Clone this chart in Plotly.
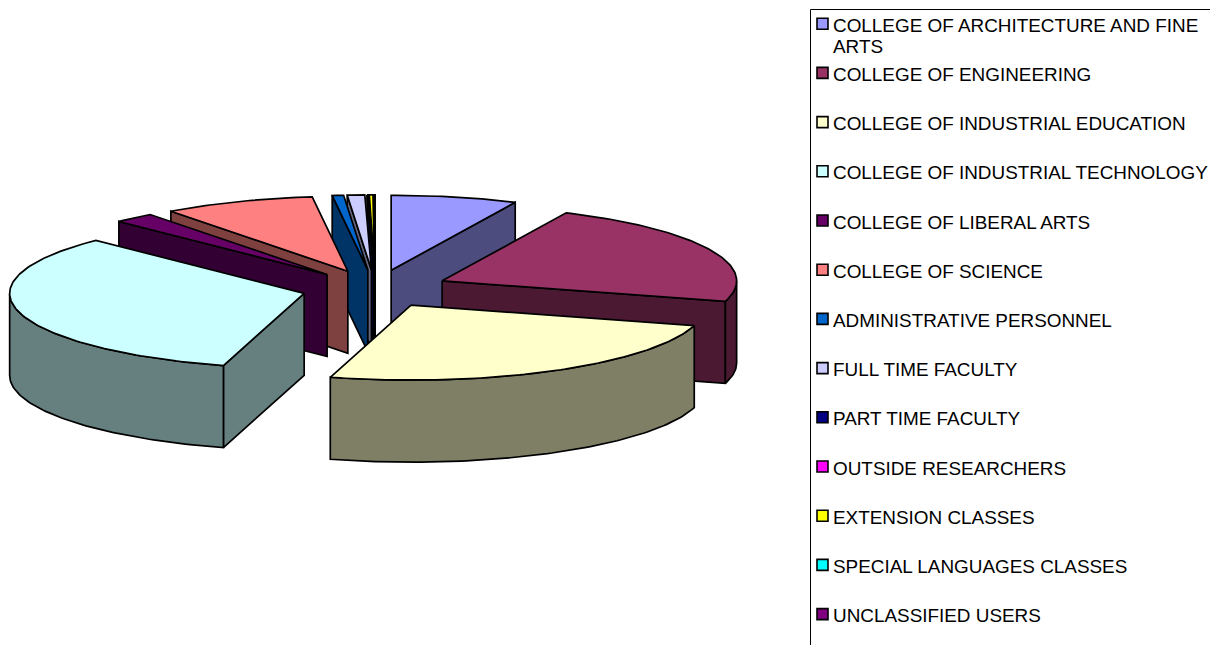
import numpy as np
import plotly.graph_objects as go

categories = ["COLLEGE OF ARCHITECTURE AND FINE ARTS", "COLLEGE OF ENGINEERING",
              "COLLEGE OF INDUSTRIAL EDUCATION", "COLLEGE OF INDUSTRIAL TECHNOLOGY",
              "COLLEGE OF LIBERAL ARTS", "COLLEGE OF SCIENCE", "ADMINISTRATIVE PERSONNEL",
              "FULL TIME FACULTY", "PART TIME FACULTY", "OUTSIDE RESEARCHERS",
              "EXTENSION CLASSES", "SPECIAL LANGUAGES CLASSES", "UNCLASSIFIED USERS"]
# estimated shares (percent)
values = [6.92, 22.5, 25.0, 33.08, 2.24, 8.33, 0.62, 0.95, 0.03, 0.05, 0.2, 0.02, 0.06]
top_colors = ["#9999FF", "#993366", "#FFFFCC", "#CCFFFF", "#660066", "#FF8080", "#0066CC",
              "#CCCCFF", "#000080", "#FF00FF", "#FFFF00", "#00FFFF", "#800080"]
legend_rows = [["COLLEGE OF ARCHITECTURE AND FINE", "ARTS"]] + [[c] for c in categories[1:]]

# pie projection, in page pixels
CX, CY, RX, RY, DEPTH, EXPLODE = 375.3, 288.7, 294.5, 75.0, 82.0, 73.5
EDGE = dict(color="#000000", width=1.7)


def darker(hex_color):
    r, g, b = (int(hex_color[i:i + 2], 16) for i in (1, 3, 5))
    return f"rgb({r // 2},{g // 2},{b // 2})"


def unit(deg):
    t = np.radians(deg)
    return np.sin(t), -np.cos(t)


def tip_of(mid):
    ux, uy = unit(mid)
    return CX + EXPLODE * ux, CY + EXPLODE * uy * 0.256


def arc(tip, a, b):
    ts = np.linspace(a, b, max(int(abs(b - a)) + 2, 2))
    ux, uy = unit(ts)
    return tip[0] + RX * ux, tip[1] + RY * uy


fig = go.Figure()


def poly(xs, ys, color, name):
    fig.add_trace(go.Scatter(x=list(xs), y=list(ys), mode="lines", fill="toself", fillcolor=color,
                             line=EDGE, showlegend=False, name=name, hoverinfo="name"))


def wall(tip, angle, color, name):
    px, py = arc(tip, angle, angle)
    px, py = px[0], py[0]
    poly([tip[0], px, px, tip[0], tip[0]],
         [tip[1], py, py + DEPTH, tip[1] + DEPTH, tip[1]], color, name)


shares = np.array(values) / sum(values) * 360
ends = np.cumsum(shares)
starts = ends - shares
mids = (starts + ends) / 2

for i in np.argsort(-np.cos(np.radians(mids))):
    a, b, name = starts[i], ends[i], categories[i]
    tip = tip_of(mids[i])
    side = darker(top_colors[i])
    if 180 < a < 360:
        wall(tip, a, side, name)
    if 0 < b < 180:
        wall(tip, b, side, name)
    lo, hi = max(a, 90), min(b, 270)
    if lo < hi:
        rx, ry = arc(tip, lo, hi)
        poly(np.r_[rx, rx[::-1], rx[0]], np.r_[ry, ry[::-1] + DEPTH, ry[0]], side, name)
    ox, oy = arc(tip, a, b)
    poly(np.r_[tip[0], ox, tip[0]], np.r_[tip[1], oy, tip[1]], top_colors[i], name)

# legend
LEG_X, TXT_X, FIRST_Y, STEP, LINE = 822.5, 833, 25.2, 49.2, 21
fig.add_shape(type="rect", x0=810.5, y0=9.5, x1=1300, y1=700,
              line=dict(color="#000000", width=1), fillcolor="rgba(0,0,0,0)", layer="below")
annotations = []
for i, lines in enumerate(legend_rows):
    y = FIRST_Y + i * STEP
    fig.add_trace(go.Scatter(x=[LEG_X], y=[y - 1.5], mode="markers", showlegend=False, hoverinfo="skip",
                             marker=dict(symbol="square", size=11, color=top_colors[i],
                                         line=dict(color="#000000", width=1.6))))
    for j, text in enumerate(lines):
        annotations.append(dict(x=TXT_X, y=y + j * LINE, text=text, xref="x", yref="y", showarrow=False,
                                xanchor="left", yanchor="middle", xshift=-2, align="left",
                                font=dict(family="Liberation Sans", size=18.9, color="#000000")))

fig.update_layout(width=1210, height=645, margin=dict(l=0, r=0, t=0, b=0), autosize=False,
                  paper_bgcolor="#FFFFFF", plot_bgcolor="#FFFFFF", annotations=annotations,
                  xaxis=dict(range=[0, 1210], visible=False, fixedrange=True),
                  yaxis=dict(range=[645, 0], visible=False, fixedrange=True))
fig.write_html("out.html", config=dict(displayModeBar=False),
               post_script="document.body.style.margin='0';document.body.style.overflow='hidden';")
